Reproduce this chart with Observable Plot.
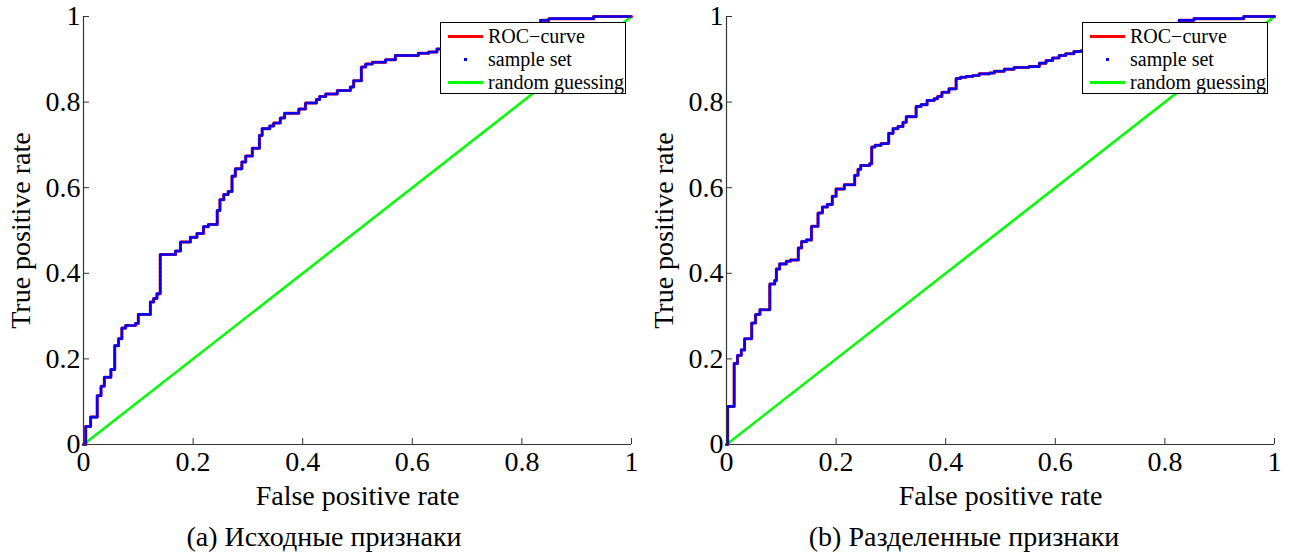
<!DOCTYPE html>
<html>
<head>
<meta charset="utf-8">
<script src="https://cdn.jsdelivr.net/npm/d3@7"></script>
<script src="https://cdn.jsdelivr.net/npm/@observablehq/plot@0.6"></script>
<style>
  body { margin: 0; background: #fff; }
  #wrap { position: relative; width: 1299px; height: 554px; overflow: hidden; }
  .panel { position: absolute; top: 0; }
  .caption { position: absolute; top: 521px; font-size: 28px; text-align: center; white-space: nowrap; transform: translateX(-50%); line-height: 32px; }
  .legend { position: absolute; border: 1.2px solid #000; background: #fff; font-size: 20px; box-sizing: border-box; }
  .legend .row { position: absolute; left: 0; height: 23px; line-height: 23px; white-space: nowrap; }
  .legend .sw { position: absolute; left: 7px; top: 10px; width: 35px; height: 3px; }
  .legend .dot { position: absolute; left: 23px; top: 10px; width: 3px; height: 3px; background: #0000ff; }
  .legend .lbl { position: absolute; left: 47px; top: 0; }
</style>
</head>
<body>
<div id="wrap" style="font-family:'Liberation Serif'"></div>
<script>
// ---- data ----
const tickValues = [0, 0.2, 0.4, 0.6, 0.8, 1];
const tickLabels = ["0", "0.2", "0.4", "0.6", "0.8", "1"];
const xLabel = "False positive rate";
const yLabel = "True positive rate";
const legendLabels = ["ROC\u2212curve", "sample set", "random guessing"];
const captions = ["(a) Исходные признаки", "(b) Разделенные признаки"];
const randomX = [0, 1];
const randomY = [0, 1];

const leftFpr = [0, 0.004, 0.013, 0.025, 0.032, 0.038, 0.05, 0.057, 0.064, 0.07, 0.077, 0.095, 0.1, 0.122, 0.128, 0.134, 0.14, 0.168, 0.177, 0.195, 0.207, 0.219, 0.228, 0.244, 0.249, 0.256, 0.264, 0.271, 0.277, 0.289, 0.296, 0.308, 0.321, 0.326, 0.34, 0.347, 0.359, 0.367, 0.393, 0.405, 0.425, 0.431, 0.442, 0.463, 0.487, 0.493, 0.507, 0.515, 0.527, 0.551, 0.569, 0.611, 0.63, 0.645, 0.7, 0.76, 0.8, 0.834, 0.849, 0.931, 1.0];
const leftTpr = [0, 0.042, 0.064, 0.114, 0.136, 0.157, 0.175, 0.231, 0.247, 0.272, 0.278, 0.283, 0.304, 0.333, 0.341, 0.352, 0.444, 0.452, 0.473, 0.484, 0.493, 0.509, 0.514, 0.547, 0.572, 0.584, 0.591, 0.627, 0.644, 0.66, 0.674, 0.692, 0.722, 0.738, 0.744, 0.751, 0.763, 0.774, 0.784, 0.798, 0.806, 0.813, 0.819, 0.827, 0.835, 0.85, 0.882, 0.889, 0.893, 0.899, 0.909, 0.914, 0.917, 0.924, 0.94, 0.955, 0.97, 0.991, 0.995, 1.0, 1.0];

const rightFpr = [0, 0.002, 0.014, 0.02, 0.027, 0.033, 0.046, 0.053, 0.061, 0.079, 0.088, 0.091, 0.097, 0.109, 0.117, 0.131, 0.137, 0.146, 0.155, 0.167, 0.175, 0.184, 0.193, 0.2, 0.215, 0.234, 0.24, 0.245, 0.261, 0.265, 0.271, 0.282, 0.296, 0.304, 0.313, 0.322, 0.328, 0.346, 0.355, 0.366, 0.379, 0.385, 0.393, 0.406, 0.419, 0.427, 0.437, 0.449, 0.461, 0.48, 0.489, 0.507, 0.525, 0.552, 0.571, 0.583, 0.595, 0.607, 0.619, 0.634, 0.647, 0.7, 0.76, 0.826, 0.853, 0.944, 1.0];
const rightTpr = [0, 0.089, 0.189, 0.208, 0.221, 0.247, 0.284, 0.304, 0.315, 0.375, 0.383, 0.41, 0.422, 0.428, 0.431, 0.459, 0.474, 0.478, 0.51, 0.541, 0.555, 0.561, 0.58, 0.597, 0.607, 0.629, 0.643, 0.652, 0.656, 0.695, 0.699, 0.703, 0.727, 0.738, 0.743, 0.753, 0.766, 0.79, 0.794, 0.804, 0.808, 0.813, 0.823, 0.831, 0.855, 0.858, 0.86, 0.862, 0.866, 0.868, 0.872, 0.877, 0.881, 0.883, 0.891, 0.897, 0.903, 0.909, 0.913, 0.918, 0.92, 0.94, 0.96, 0.991, 0.995, 1.0, 1.0];

// ---- colours ----
const rocColor = "#ff0000";
const sampleColor = "#0000ff";
const randomColor = "#00ff00";
const FONT = "Liberation Serif";

function chart(fpr, tpr, width, ml, mr) {
  const pts = fpr.map((x, i) => ({x, y: tpr[i]}));
  const diag = randomX.map((x, i) => ({x, y: randomY[i]}));
  const fmt = d => tickLabels[tickValues.indexOf(d)];
  const svg = Plot.plot({
    width, height: 500,
    marginLeft: ml, marginRight: mr, marginTop: 16, marginBottom: 56,
    x: {domain: [0, 1]},
    y: {domain: [0, 1]},
    style: {fontSize: "28px", color: "#000", background: "transparent", overflow: "visible"},
    marks: [
      Plot.line(diag, {x: "x", y: "y", stroke: randomColor, strokeWidth: 2.5}),
      Plot.line(pts, {x: "x", y: "y", curve: "step-after", stroke: rocColor, strokeWidth: 3}),
      Plot.line(pts, {x: "x", y: "y", curve: "step-after", stroke: sampleColor, strokeWidth: 2.6, strokeDasharray: "2.5,1.5"}),
      Plot.ruleX([0], {stroke: "#333", strokeWidth: 1.2}),
      Plot.ruleY([0], {stroke: "#333", strokeWidth: 1.2}),
      Plot.axisX({ticks: tickValues, tickFormat: fmt, tickSize: -6, tickPadding: 13, stroke: "#333",
        label: xLabel, labelAnchor: "center", labelArrow: "none", labelOffset: 60}),
      Plot.axisY({ticks: tickValues, tickFormat: fmt, tickSize: -6, tickPadding: 9, stroke: "#333",
        label: yLabel, labelAnchor: "center", labelArrow: "none", labelOffset: 73})
    ]
  });
  svg.style.fontFamily = FONT;
  svg.querySelectorAll("text, g").forEach(el => { el.removeAttribute("font-family"); el.style.fontFamily = FONT; });
  return svg;
}

const wrap = document.getElementById("wrap");
wrap.style.fontFamily = FONT;
function addPanel(svg, left) {
  const d = document.createElement("div");
  d.className = "panel";
  d.style.left = left + "px";
  d.appendChild(svg);
  wrap.appendChild(d);
}
addPanel(chart(leftFpr, leftTpr, 650, 83, 19), 0);
addPanel(chart(rightFpr, rightTpr, 649, 76, 25), 650);

function addLegend(left, top) {
  const lg = document.createElement("div");
  lg.className = "legend";
  lg.style.left = left + "px";
  lg.style.top = top + "px";
  lg.style.width = "186px";
  lg.style.height = "72px";
  lg.style.fontFamily = FONT;
  legendLabels.forEach((t, i) => {
    const r = document.createElement("div");
    r.className = "row";
    r.style.top = (2 + i * 23) + "px";
    if (i === 1) {
      const s = document.createElement("div"); s.className = "dot"; r.appendChild(s);
    } else {
      const s = document.createElement("div"); s.className = "sw";
      s.style.background = i === 0 ? rocColor : randomColor; r.appendChild(s);
    }
    const l = document.createElement("div"); l.className = "lbl"; l.textContent = t; r.appendChild(l);
    lg.appendChild(r);
  });
  wrap.appendChild(lg);
}
addLegend(440, 22);
addLegend(1082, 22);

[[324, captions[0]], [964, captions[1]]].forEach(([cx, t]) => {
  const c = document.createElement("div");
  c.className = "caption";
  c.style.left = cx + "px";
  c.style.fontFamily = FONT;
  c.textContent = t;
  wrap.appendChild(c);
});
</script>
</body>
</html>
